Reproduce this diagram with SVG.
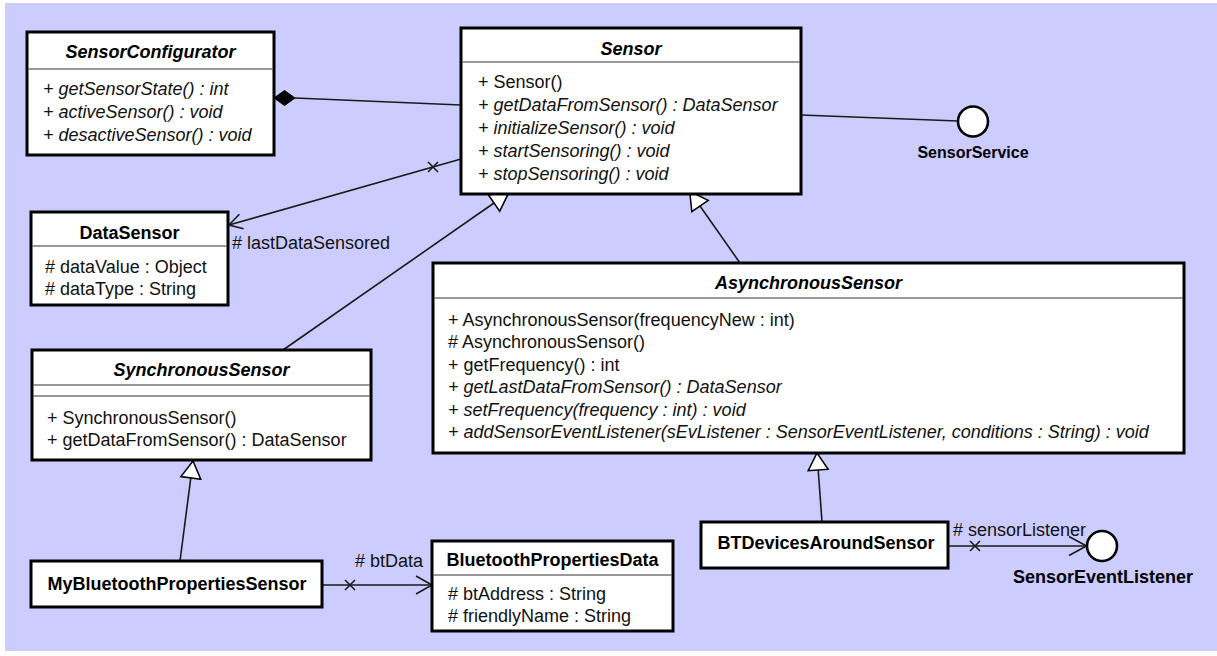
<svg xmlns="http://www.w3.org/2000/svg" width="1217" height="656" viewBox="0 0 1217 656">
<style>
.box{fill:#fff;stroke:#000;stroke-width:3}
.sep{stroke:#333;stroke-width:1.2}
text{font-family:"Liberation Sans",Arial,sans-serif;font-size:18px;fill:#111}
.ttl{font-weight:bold;text-anchor:middle;fill:#000}
.it{font-style:italic}
.conn{stroke:#1a1a1a;stroke-width:1.6;fill:none}
.gen{fill:#fff;stroke:#000;stroke-width:1.5}
.ifc{fill:#fff;stroke:#000;stroke-width:2.6}
</style>
<rect x="5" y="3" width="1212" height="648" fill="#ccccff"/>
<g id="connectors">
  <!-- composition SensorConfigurator - Sensor -->
  <line class="conn" x1="295" y1="98" x2="461" y2="105"/>
  <polygon points="274,98 284.5,90.5 295,98 284.5,105.5" fill="#000" stroke="#000" stroke-width="1"/>
  <!-- Sensor -> DataSensor -->
  <line class="conn" x1="461" y1="159" x2="229" y2="225"/>
  <polyline class="conn" points="239.4,214.2 229,225 243.6,228.7"/>
  <line class="conn" x1="428" y1="162" x2="438" y2="172"/>
  <line class="conn" x1="428" y1="172" x2="438" y2="162"/>
  <!-- Sensor - SensorService -->
  <line class="conn" x1="801" y1="115" x2="958" y2="121"/>
  <!-- SynchronousSensor -> Sensor -->
  <line class="conn" x1="283" y1="350" x2="494" y2="203"/>
  <polygon class="gen" points="488.3,194.8 499.7,211.2 508.8,192.7"/>
  <!-- AsynchronousSensor -> Sensor -->
  <line class="conn" x1="740" y1="263" x2="700" y2="206"/>
  <polygon class="gen" points="708.2,200.3 691.8,211.7 689.7,191.3"/>
  <!-- MyBluetoothPropertiesSensor -> SynchronousSensor -->
  <line class="conn" x1="180" y1="561" x2="190.8" y2="477.9"/>
  <polygon class="gen" points="200.7,479.2 180.9,476.6 193,461"/>
  <!-- BTDevicesAroundSensor -> AsynchronousSensor -->
  <line class="conn" x1="822" y1="522" x2="818.2" y2="470"/>
  <polygon class="gen" points="828.2,469.3 808.2,470.7 817,453"/>
  <!-- MyBluetoothPropertiesSensor -> BluetoothPropertiesData -->
  <line class="conn" x1="322" y1="585" x2="432" y2="585"/>
  <polyline class="conn" points="416,576 432,585 416,594"/>
  <line class="conn" x1="345" y1="580" x2="355" y2="590"/>
  <line class="conn" x1="345" y1="590" x2="355" y2="580"/>
  <!-- BTDevicesAroundSensor -> SensorEventListener -->
  <line class="conn" x1="948" y1="546" x2="1086.5" y2="546"/>
  <polyline class="conn" points="1069,536.5 1086.5,546 1069,555.5"/>
  <line class="conn" x1="970" y1="541" x2="980" y2="551"/>
  <line class="conn" x1="970" y1="551" x2="980" y2="541"/>
  <text x="232" y="249">#<tspan> lastDataSensored</tspan></text>
  <text x="355" y="567"># btData</text>
  <text x="953" y="536"># sensorListener</text>
</g>
<g id="SensorConfigurator">
  <rect class="box" x="27" y="32" width="247" height="123"/>
  <line class="sep" x1="28.5" y1="69" x2="272.5" y2="69"/>
  <text class="ttl it" x="150.5" y="58">SensorConfigurator</text>
  <text class="it" x="43" y="94.5">+ getSensorState() : int</text>
  <text class="it" x="43" y="117.5">+ activeSensor() : void</text>
  <text class="it" x="43" y="140.5">+ desactiveSensor() : void</text>
</g>
<g id="Sensor">
  <rect class="box" x="461" y="28" width="340" height="166"/>
  <line class="sep" x1="462.5" y1="62" x2="799.5" y2="62"/>
  <text class="ttl it" x="631" y="54.5">Sensor</text>
  <text x="478" y="88">+ Sensor()</text>
  <text class="it" x="478" y="111">+ getDataFromSensor() : DataSensor</text>
  <text class="it" x="478" y="134">+ initializeSensor() : void</text>
  <text class="it" x="478" y="157">+ startSensoring() : void</text>
  <text class="it" x="478" y="180">+ stopSensoring() : void</text>
</g>
<g id="SensorService">
  <circle class="ifc" cx="973" cy="121.5" r="15"/>
  <text class="ttl" x="973" y="158" style="font-size:16px">SensorService</text>
</g>
<g id="DataSensor">
  <rect class="box" x="31" y="212" width="197" height="93"/>
  <line class="sep" x1="32.5" y1="246" x2="226.5" y2="246"/>
  <text class="ttl" x="129.5" y="238.5">DataSensor</text>
  <text x="45" y="273"># dataValue : Object</text>
  <text x="45" y="295"># dataType : String</text>
</g>
<g id="SynchronousSensor">
  <rect class="box" x="32" y="350" width="339" height="110"/>
  <line class="sep" x1="33.5" y1="385" x2="369.5" y2="385"/>
  <line class="sep" x1="33.5" y1="396" x2="369.5" y2="396"/>
  <text class="ttl it" x="201.5" y="376">SynchronousSensor</text>
  <text x="47" y="424">+ SynchronousSensor()</text>
  <text x="47" y="446">+ getDataFromSensor() : DataSensor</text>
</g>
<g id="AsynchronousSensor">
  <rect class="box" x="433" y="263" width="751" height="190"/>
  <line class="sep" x1="434.5" y1="298" x2="1182.5" y2="298"/>
  <text class="ttl it" x="808.5" y="289">AsynchronousSensor</text>
  <text x="448" y="326">+ AsynchronousSensor(frequencyNew : int)</text>
  <text x="448" y="348.4"># AsynchronousSensor()</text>
  <text x="448" y="370.8">+ getFrequency() : int</text>
  <text class="it" x="448" y="393.2">+ getLastDataFromSensor() : DataSensor</text>
  <text class="it" x="448" y="415.6">+ setFrequency(frequency : int) : void</text>
  <text class="it" x="448" y="438">+ addSensorEventListener(sEvListener : SensorEventListener, conditions : String) : void</text>
</g>
<g id="MyBluetoothPropertiesSensor">
  <rect class="box" x="31" y="561" width="291" height="46"/>
  <text class="ttl" x="177" y="590">MyBluetoothPropertiesSensor</text>
</g>
<g id="BluetoothPropertiesData">
  <rect class="box" x="432" y="541" width="241" height="90"/>
  <line class="sep" x1="433.5" y1="575" x2="671.5" y2="575"/>
  <text class="ttl" x="552.5" y="566">BluetoothPropertiesData</text>
  <text x="448" y="600"># btAddress : String</text>
  <text x="448" y="622"># friendlyName : String</text>
</g>
<g id="BTDevicesAroundSensor">
  <rect class="box" x="701" y="522" width="247" height="46"/>
  <text class="ttl" x="826" y="549">BTDevicesAroundSensor</text>
</g>
<g id="SensorEventListener">
  <circle class="ifc" cx="1102" cy="546" r="15"/>
  <text class="ttl" x="1103" y="583">SensorEventListener</text>
</g>
</svg>
